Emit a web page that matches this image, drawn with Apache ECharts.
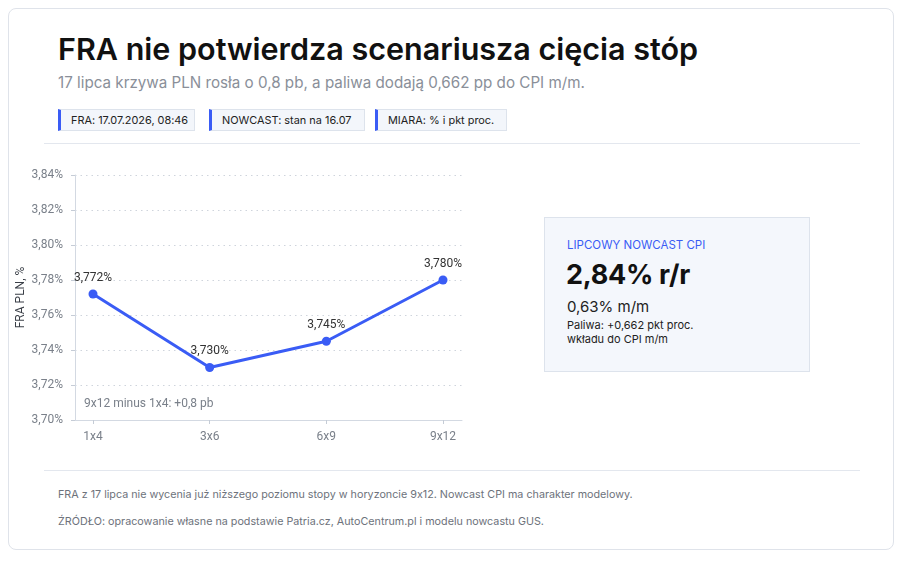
<!DOCTYPE html>
<html>
<head>
<meta charset="utf-8">
<script src="https://cdn.jsdelivr.net/npm/echarts@6/dist/echarts.min.js"></script>
<style>
  html, body { margin: 0; padding: 0; background: #fff; }
  body { width: 904px; height: 562px; position: relative; font-family: Inter, "Noto Sans", sans-serif; font-feature-settings: "calt" 0; overflow: hidden; }
  .card { position: absolute; left: 8px; top: 8px; width: 886px; height: 542px; border: 1px solid #dfe3ea; border-radius: 8px; box-sizing: border-box; }
  .abs { position: absolute; white-space: nowrap; }
  .title { left: 58px; top: 30px; font-size: 30.5px; font-weight: 600; color: #111; }
  .sub { left: 58px; top: 73px; font-size: 15.2px; color: #8a8f99; }
  .tag { top: 109px; height: 22px; line-height: 21px; font-size: 10.9px; color: #222; background: #f3f6fb; border: 1px solid #dde3ec; border-left: 3px solid #3a5cf5; box-sizing: border-box; padding-left: 10px; }
  .sep { left: 44px; width: 816px; height: 1px; background: #e3e7ee; }
  .kpi { left: 544px; top: 217px; width: 266px; height: 155px; background: #f4f7fc; border: 1px solid #dde3ec; box-sizing: border-box; }
  .foot { left: 58px; font-size: 10.75px; color: #6d727b; }
  #chart { position: absolute; left: 0; top: 150px; width: 480px; height: 300px; }
</style>
</head>
<body>
<div class="card"></div>
<div class="abs title">FRA nie potwierdza scenariusza cięcia stóp</div>
<div class="abs sub">17 lipca krzywa PLN rosła o 0,8 pb, a paliwa dodają 0,662 pp do CPI m/m.</div>
<div class="abs tag" style="left:58px;width:137px;">FRA: 17.07.2026, 08:46</div>
<div class="abs tag" style="left:209px;width:156px;">NOWCAST: stan na 16.07</div>
<div class="abs tag" style="left:375px;width:132px;">MIARA: % i pkt proc.</div>
<div class="abs sep" style="top:143px;"></div>
<div id="chart"></div>
<div class="abs kpi"></div>
<div class="abs" style="left:567px;top:238px;font-size:11.5px;color:#3a5cf5;">LIPCOWY NOWCAST CPI</div>
<div class="abs" style="left:566px;top:258px;font-size:27px;font-weight:700;color:#111;letter-spacing:-0.3px;">2,84% r/r</div>
<div class="abs" style="left:567px;top:297px;font-size:15px;color:#222;">0,63% m/m</div>
<div class="abs" style="left:567px;top:318px;font-size:11px;color:#222;line-height:14px;">Paliwa: +0,662 pkt proc.<br>wkładu do CPI m/m</div>
<div class="abs sep" style="top:470px;"></div>
<div class="abs foot" style="top:488px;">FRA z 17 lipca nie wycenia już niższego poziomu stopy w horyzoncie 9x12. Nowcast CPI ma charakter modelowy.</div>
<div class="abs foot" style="top:515px;">ŹRÓDŁO: opracowanie własne na podstawie Patria.cz, AutoCentrum.pl i modelu nowcastu GUS.</div>
<script>
const categories = ['1x4', '3x6', '6x9', '9x12'];
const fraValues = [3.772, 3.730, 3.745, 3.780];
const yMin = 3.70;
const yMax = 3.84;
const yStep = 0.02;
const noteText = '9x12 minus 1x4: +0,8 pb';

const fmtPct = (v, d) => v.toFixed(d).replace('.', ',') + '%';
const chart = echarts.init(document.getElementById('chart'));
const blue = '#3a5cf5';
const font = 'Roboto, "Noto Sans", sans-serif';

chart.setOption({
  animation: false,
  textStyle: { fontFamily: font },
  grid: [
    { left: 75, right: 18, top: 25, bottom: 30 },
    { left: 93, right: 37, top: 25, bottom: 30 }
  ],
  xAxis: [
    {
      gridIndex: 0, type: 'value', min: 0, max: 1,
      axisLine: { show: true, lineStyle: { color: '#d3d9e2' } },
      axisTick: { show: false }, axisLabel: { show: false }, splitLine: { show: false }
    },
    {
      gridIndex: 1, type: 'category', data: categories, boundaryGap: false,
      axisLine: { show: false },
      axisTick: { show: true, length: 4, lineStyle: { color: '#c5ccd6' } },
      axisLabel: { color: '#7a808a', fontSize: 12, margin: 11 },
      splitLine: { show: false }
    }
  ],
  yAxis: [
    {
      gridIndex: 0, type: 'value', min: yMin, max: yMax, interval: yStep,
      name: 'FRA PLN, %', nameLocation: 'middle', nameGap: 48, nameMoveOverlap: false,
      nameTextStyle: { color: '#3a3f47', fontSize: 12 },
      axisLine: { show: true, lineStyle: { color: '#d3d9e2' } },
      axisTick: { show: true, length: 4, lineStyle: { color: '#c5ccd6' } },
      axisLabel: { color: '#7a808a', fontSize: 12, margin: 12, formatter: v => fmtPct(v, 2) },
      splitLine: { show: true, lineStyle: { color: '#cfd4dc', type: [1.5, 4] } }
    },
    {
      gridIndex: 1, type: 'value', min: yMin, max: yMax, interval: yStep,
      axisLine: { show: false }, axisTick: { show: false },
      axisLabel: { show: false }, splitLine: { show: false }
    }
  ],
  series: [{
    type: 'line',
    xAxisIndex: 1, yAxisIndex: 1,
    data: fraValues,
    lineStyle: { color: blue, width: 3 },
    itemStyle: { color: blue },
    symbol: 'circle', symbolSize: 9,
    label: {
      show: true, position: 'top', distance: 6,
      color: '#333', fontSize: 12,
      formatter: p => fmtPct(p.value, 3)
    }
  }],
  graphic: [{
    type: 'text', left: 84, top: 248,
    style: { text: noteText, fill: '#7a808a', fontSize: 12, fontFamily: font }
  }]
});
</script>
</body>
</html>
